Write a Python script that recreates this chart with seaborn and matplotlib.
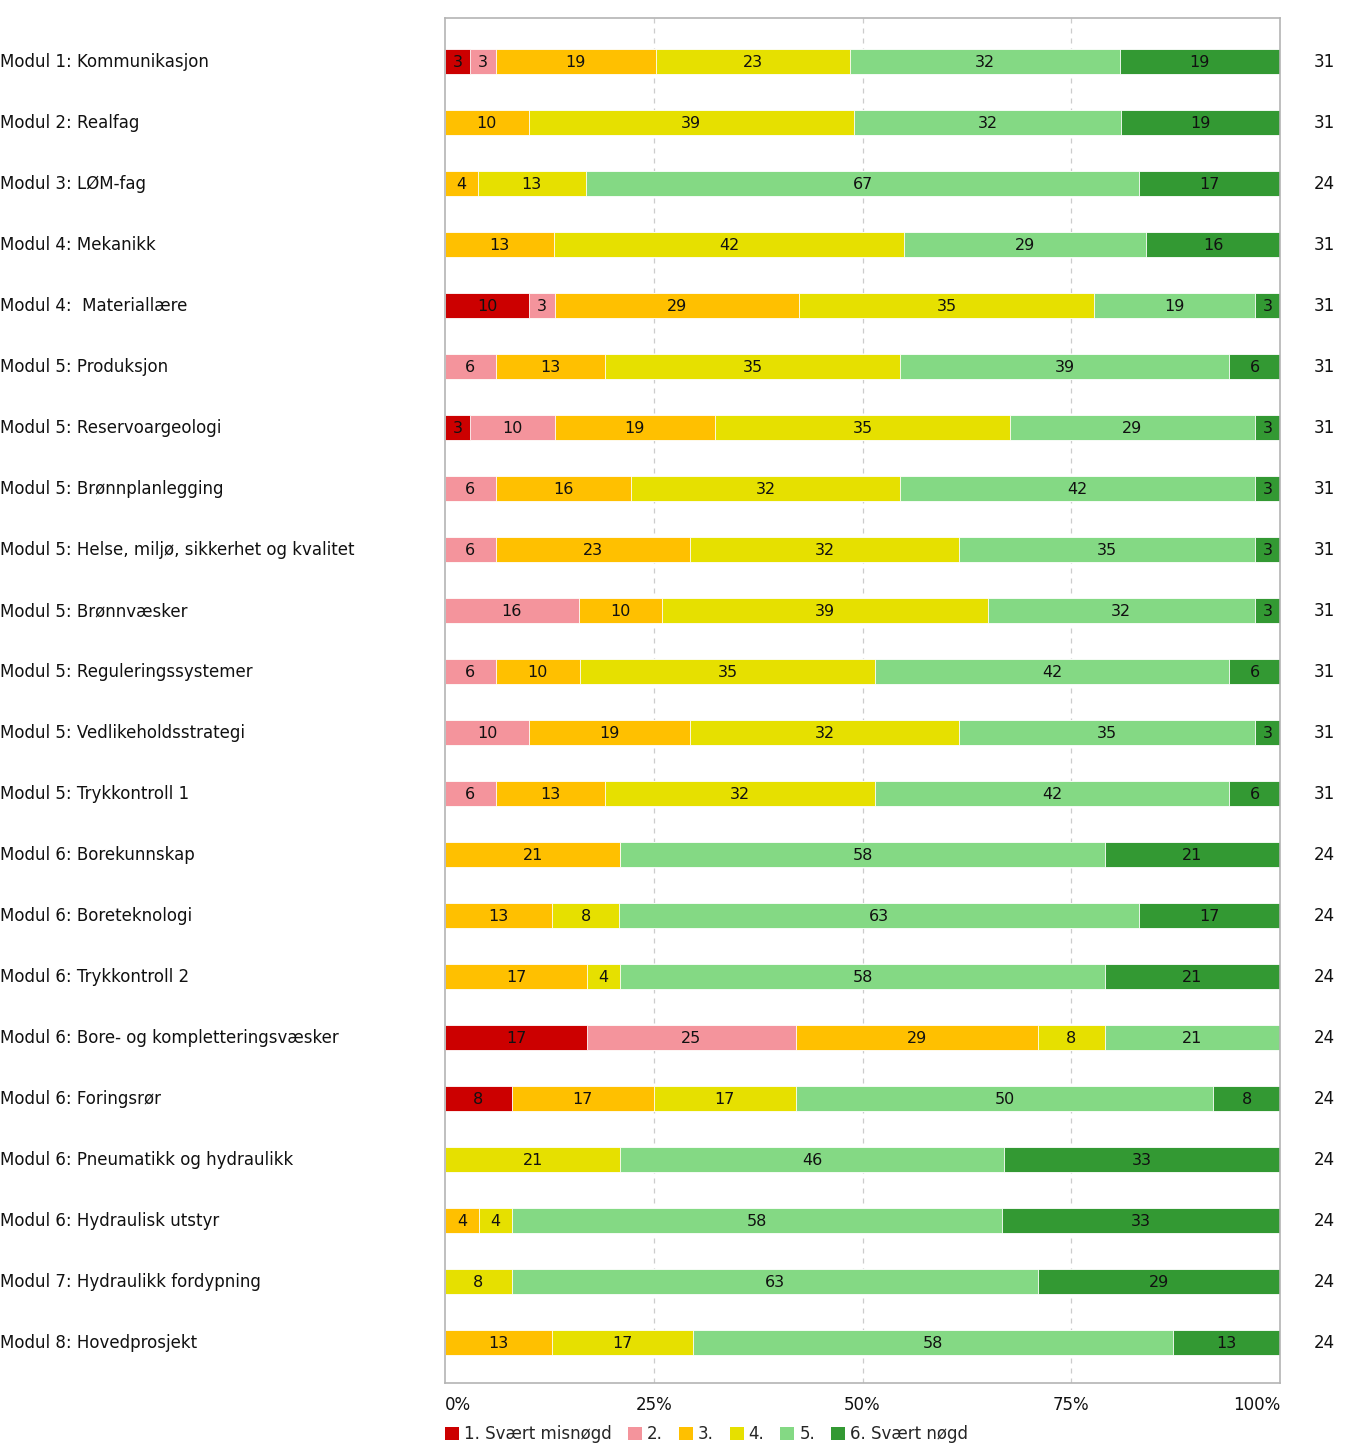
import matplotlib
matplotlib.use("Agg")
import matplotlib.pyplot as plt
import matplotlib.transforms as mtransforms
from matplotlib.patches import Patch
import numpy as np
import pandas as pd
import seaborn as sns

# data (percent per answer category)
modules = [
    "Modul 1: Kommunikasjon",
    "Modul 2: Realfag",
    "Modul 3: LØM-fag",
    "Modul 4: Mekanikk",
    "Modul 4:  Materiallære",
    "Modul 5: Produksjon",
    "Modul 5: Reservoargeologi",
    "Modul 5: Brønnplanlegging",
    "Modul 5: Helse, miljø, sikkerhet og kvalitet",
    "Modul 5: Brønnvæsker",
    "Modul 5: Reguleringssystemer",
    "Modul 5: Vedlikeholdsstrategi",
    "Modul 5: Trykkontroll 1",
    "Modul 6: Borekunnskap",
    "Modul 6: Boreteknologi",
    "Modul 6: Trykkontroll 2",
    "Modul 6: Bore- og kompletteringsvæsker",
    "Modul 6: Foringsrør",
    "Modul 6: Pneumatikk og hydraulikk",
    "Modul 6: Hydraulisk utstyr",
    "Modul 7: Hydraulikk fordypning",
    "Modul 8: Hovedprosjekt",
]
svar1 = [3, 0, 0, 0, 10, 0, 3, 0, 0, 0, 0, 0, 0, 0, 0, 0, 17, 8, 0, 0, 0, 0]
svar2 = [3, 0, 0, 0, 3, 6, 10, 6, 6, 16, 6, 10, 6, 0, 0, 0, 25, 0, 0, 0, 0, 0]
svar3 = [19, 10, 4, 13, 29, 13, 19, 16, 23, 10, 10, 19, 13, 21, 13, 17, 29, 17, 0, 4, 0, 13]
svar4 = [23, 39, 13, 42, 35, 35, 35, 32, 32, 39, 35, 32, 32, 0, 8, 4, 8, 17, 21, 4, 8, 17]
svar5 = [32, 32, 67, 29, 19, 39, 29, 42, 35, 32, 42, 35, 42, 58, 63, 58, 21, 50, 46, 58, 63, 58]
svar6 = [19, 19, 17, 16, 3, 6, 3, 3, 3, 3, 6, 3, 6, 21, 17, 21, 0, 8, 33, 33, 29, 13]
antall = [31, 31, 24, 31, 31, 31, 31, 31, 31, 31, 31, 31, 31,
          24, 24, 24, 24, 24, 24, 24, 24, 24]

kategorier = ["1. Svært misnøgd", "2.", "3.", "4.", "5.", "6. Svært nøgd"]
farger = ["#cc0000", "#f4949c", "#ffc000", "#e6e000", "#84d984", "#339933"]

verdier = np.array([svar1, svar2, svar3, svar4, svar5, svar6], dtype=float).T
andel = verdier / verdier.sum(axis=1, keepdims=True) * 100
kum = np.cumsum(andel, axis=1)

FS = 12
W, H = 1347, 1449
sns.set_style("white")
plt.rcParams["font.family"] = ["DejaVu Sans"]
fig = plt.figure(figsize=(W / 100, H / 100), dpi=100)

ax = fig.add_axes([445 / W, 1 - 1383 / H, (1280 - 445) / W, (1383 - 18) / H])

# draw cumulative layers from right to left
for i in range(5, -1, -1):
    df = pd.DataFrame({"modul": modules, "kum": kum[:, i]})
    sns.barplot(data=df, x="kum", y="modul", orient="h", color=farger[i],
                saturation=1, width=0.41, edgecolor="white", linewidth=0.6,
                ax=ax, zorder=2)

# segment labels
for r in range(len(modules)):
    start = 0
    for i in range(6):
        w = andel[r, i]
        if verdier[r, i] > 0:
            ax.text(start + w / 2, r + 0.02, f"{verdier[r, i]:.0f}", ha="center",
                    va="center", fontsize=11.5, color="#111111", zorder=3)
        start += w

ax.set_xlim(0, 100)
ax.set_ylim(len(modules) - 1 + 0.672, -0.705)
ax.set_xlabel("")
ax.set_ylabel("")
ax.set_yticks([])
ax.set_xticks([0, 25, 50, 75, 100])
ax.set_xticklabels(["0%", "25%", "50%", "75%", "100%"], fontsize=FS)
lbls = ax.get_xticklabels()
lbls[0].set_ha("left")
lbls[-1].set_ha("right")
ax.tick_params(axis="x", length=0, pad=9, colors="#111111")
for x in [25, 50, 75]:
    ax.axvline(x, color="#cccccc", linestyle=(0, (4, 4)), linewidth=0.9, zorder=1)
for s in ax.spines.values():
    s.set_color("#b4b4b4")
    s.set_linewidth(1.2)

# module names and respondent counts
trans = mtransforms.blended_transform_factory(fig.transFigure, ax.transData)
for r, (navn, n) in enumerate(zip(modules, antall)):
    fig.text(0.0, r + 0.02, navn, transform=trans, ha="left", va="center",
             fontsize=FS, color="#111111")
    fig.text(1324 / W, r + 0.02, str(n), transform=trans, ha="center", va="center",
             fontsize=FS, color="#111111")

handles = [Patch(facecolor=c, edgecolor="none") for c in farger]
fig.legend(handles, kategorier, loc="center left",
           bbox_to_anchor=(445 / W, 1 - 1434 / H), ncol=6, frameon=False,
           fontsize=FS, handlelength=0.85, handleheight=0.85,
           handletextpad=0.3, columnspacing=0.95, borderpad=0, borderaxespad=0)

fig.savefig("out.png", dpi=100)
